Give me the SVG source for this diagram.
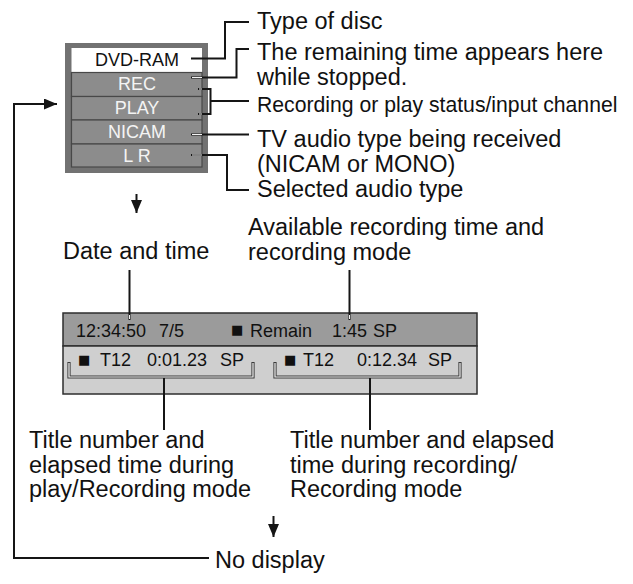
<svg xmlns="http://www.w3.org/2000/svg" width="633" height="584" viewBox="0 0 633 584">
<defs>
<style>
text{font-family:"Liberation Sans",Arial,Helvetica,sans-serif;}
.lbl{font-size:23.5px;fill:#111;}
.lbl2{font-size:21.2px;fill:#111;}
.ptxt{font-size:18px;fill:#f4f4f4;text-anchor:middle;}
.btxt{font-size:18px;fill:#111;}
.sq{font-family:"DejaVu Sans",sans-serif;font-size:13px;fill:#111;}
.ln{fill:none;stroke:#151515;stroke-width:2;}
.inner{fill:none;stroke:#f2f2f2;stroke-width:1;}
.brk{fill:none;stroke:#3a3a3a;stroke-width:3.2;}
.brkw{fill:none;stroke:#f4f4f4;stroke-width:1.2;}
.row{fill:#8c8c8c;stroke:#484848;stroke-width:1.2;}
</style>
<marker id="ah" viewBox="0 0 10 10" refX="10" refY="5" markerWidth="13" markerHeight="11" markerUnits="userSpaceOnUse" orient="auto" preserveAspectRatio="none">
<path d="M0,0 L10,5 L0,10 z" fill="#151515"/>
</marker>
</defs>

<g id="panel">
<rect x="65" y="43" width="143" height="130" fill="#727272"/>
<rect x="71.5" y="48" width="130.5" height="24.5" fill="#ffffff"/>
<rect class="row" x="71.5" y="72.5" width="130.5" height="24"/>
<rect class="row" x="71.5" y="96.5" width="130.5" height="23.5"/>
<rect class="row" x="71.5" y="120" width="130.5" height="24"/>
<rect class="row" x="71.5" y="144" width="130.5" height="23"/>
<text x="137" y="66" style="font-size:18px;fill:#111;text-anchor:middle">DVD-RAM</text>
<text class="ptxt" x="137" y="90">REC</text>
<text class="ptxt" x="137" y="113.5">PLAY</text>
<text class="ptxt" x="137" y="137.5">NICAM</text>
<text class="ptxt" x="137" y="161.5">L R</text>
</g>

<g id="bar">
<rect x="63" y="313" width="414" height="33" fill="#9b9b9b" stroke="#2e2e2e" stroke-width="1.5"/>
<rect x="63" y="346" width="414" height="48" fill="#cfcfcf" stroke="#2e2e2e" stroke-width="1.5"/>
<text class="btxt" x="76" y="337">12:34:50</text>
<text class="btxt" x="159" y="337">7/5</text>
<text class="sq" x="231" y="334">■</text>
<text class="btxt" x="250" y="337">Remain</text>
<text class="btxt" x="332" y="337">1:45</text>
<text class="btxt" x="373" y="337">SP</text>
<text class="sq" x="78" y="364">■</text>
<text class="btxt" x="100" y="366">T12</text>
<text class="btxt" x="147" y="366">0:01.23</text>
<text class="btxt" x="220" y="366">SP</text>
<text class="sq" x="284" y="364">■</text>
<text class="btxt" x="303" y="366">T12</text>
<text class="btxt" x="357" y="366">0:12.34</text>
<text class="btxt" x="428" y="366">SP</text>
</g>

<g id="labels">
<text class="lbl" x="257" y="29">Type of disc</text>
<text class="lbl" x="257" y="60">The remaining time appears here</text>
<text class="lbl" x="257" y="85">while stopped.</text>
<text class="lbl2" x="257" y="112">Recording or play status/input channel</text>
<text class="lbl" x="257" y="147">TV audio type being received</text>
<text class="lbl" x="257" y="172">(NICAM or MONO)</text>
<text class="lbl" x="257" y="197">Selected audio type</text>
<text class="lbl" x="63" y="259">Date and time</text>
<text class="lbl" x="248" y="235">Available recording time and</text>
<text class="lbl" x="248" y="260">recording mode</text>
<text class="lbl" x="29" y="448">Title number and</text>
<text class="lbl" x="29" y="472.5">elapsed time during</text>
<text class="lbl" x="29" y="497">play/Recording mode</text>
<text class="lbl" x="290" y="448">Title number and elapsed</text>
<text class="lbl" x="290" y="472.5">time during recording/</text>
<text class="lbl" x="290" y="497">Recording mode</text>
<text class="lbl" x="215" y="568">No display</text>
</g>

<g id="connectors">
<polyline class="ln" points="191,58.5 225,58.5 225,22 249,22"/>
<polyline class="ln" points="191,77.5 236.5,77.5 236.5,49 249,49"/>
<polyline class="ln" points="198,89 210.5,89 210.5,114 198,114"/>
<line class="ln" x1="210.5" y1="101" x2="249" y2="101"/>
<line class="ln" x1="191" y1="134.5" x2="249" y2="134.5"/>
<polyline class="ln" points="191,155 227,155 227,190 249,190"/>
<line class="inner" x1="192" y1="77.5" x2="202" y2="77.5"/>
<line class="inner" x1="199" y1="89" x2="202" y2="89"/>
<line class="inner" x1="199" y1="114" x2="202" y2="114"/>
<line class="inner" x1="192" y1="134.5" x2="202" y2="134.5"/>
<line class="inner" x1="192" y1="155" x2="202" y2="155"/>
<line class="ln" x1="136.5" y1="194" x2="136.5" y2="213" marker-end="url(#ah)"/>
<line class="ln" x1="273.5" y1="516" x2="273.5" y2="537" marker-end="url(#ah)"/>
<polyline class="ln" points="209,558 14,558 14,104 57,104" marker-end="url(#ah)"/>
<line class="ln" x1="129.5" y1="270" x2="129.5" y2="320"/>
<line class="ln" x1="349.5" y1="270" x2="349.5" y2="320"/>
<line class="inner" x1="129.5" y1="315" x2="129.5" y2="319"/>
<line class="inner" x1="349.5" y1="315" x2="349.5" y2="319"/>
<polyline class="brk" points="69,362 69,377 253,377 253,362"/>
<polyline class="brk" points="275,362 275,377 460,377 460,362"/>
<polyline class="brkw" points="69,363 69,377 253,377 253,363"/>
<polyline class="brkw" points="275,363 275,377 460,377 460,363"/>
<line class="ln" x1="164" y1="378" x2="164" y2="430"/>
<line class="ln" x1="370" y1="378" x2="370" y2="430"/>
</g>
</svg>
